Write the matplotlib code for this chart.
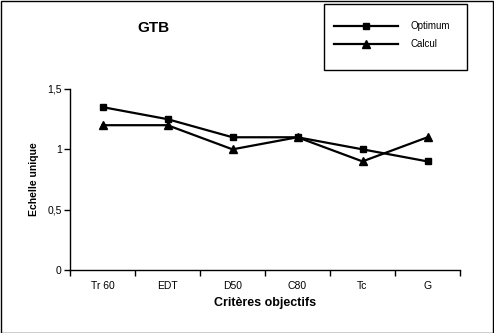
import matplotlib
matplotlib.use("Agg")
import matplotlib.pyplot as plt
from matplotlib.patches import Rectangle
from matplotlib.lines import Line2D
from matplotlib.ticker import FuncFormatter

categories = ["Tr 60", "EDT", "D50", "C80", "Tc", "G"]
optimum = [1.35, 1.25, 1.10, 1.10, 1.00, 0.90]
calcul = [1.20, 1.20, 1.00, 1.10, 0.90, 1.10]
yticks = [0, 0.5, 1, 1.5]

plt.rcParams['font.family'] = ['Liberation Sans', 'DejaVu Sans']

W, H = 494, 333
fig = plt.figure(figsize=(W / 100, H / 100), dpi=100)
fig.patch.set_facecolor('white')
fig.patches.append(Rectangle((0.5 / W, 0.5 / H), 1 - 1.5 / W, 1 - 1.5 / H, transform=fig.transFigure,
                             fill=False, edgecolor='black', linewidth=1.0))

ax = fig.add_axes([70 / W, 1 - 270 / H, 390 / W, 181 / H])
x = list(range(len(categories)))
ax.plot(x, optimum, color='black', lw=1.6, marker='s', markersize=5, label='Optimum')
ax.plot(x, calcul, color='black', lw=1.6, marker='^', markersize=5.5, label='Calcul')

ax.set_xlim(-0.5, len(categories) - 0.5)
ax.set_ylim(0, 1.5)
ax.set_yticks(yticks)
ax.yaxis.set_major_formatter(FuncFormatter(lambda v, p: ('%g' % v).replace('.', ',')))
ax.set_xticks([i - 0.5 for i in range(len(categories) + 1)])
ax.set_xticklabels([])
ax.set_xticks(x, minor=True)
ax.set_xticklabels(categories, minor=True)
ax.tick_params(axis='x', which='minor', length=0, pad=8, labelsize=7.5)
ax.tick_params(axis='x', which='major', direction='out', length=4, width=1)
ax.tick_params(axis='y', direction='out', length=4, width=1, labelsize=7.5, pad=2)
for s in ['top', 'right']:
    ax.spines[s].set_visible(False)
for s in ['left', 'bottom']:
    ax.spines[s].set_linewidth(1)

ax.set_ylabel('Echelle unique', fontsize=7.5, fontweight='bold', labelpad=6)
ax.set_xlabel('Critères objectifs', fontsize=9, fontweight='bold', labelpad=4)

fig.text(153 / W, 1 - 28 / H, 'GTB', fontsize=11, fontweight='bold', ha='center', va='center')

# legend box
fig.patches.append(Rectangle((324 / W, 1 - 70 / H), 143 / W, 66 / H, transform=fig.transFigure,
                             fill=False, edgecolor='black', linewidth=1.0))
fig.legend(handles=[Line2D([], [], color='black', lw=1.6, marker='s', markersize=5),
                    Line2D([], [], color='black', lw=1.6, marker='^', markersize=5.5)],
           labels=['Optimum', 'Calcul'], loc='upper left', bbox_to_anchor=(334 / W, 1 - 21 / H),
           frameon=False, fontsize=7, handlelength=6.6, handletextpad=1.3, labelspacing=0.85,
           borderaxespad=0, borderpad=0)

fig.savefig('out.png', dpi=100)
